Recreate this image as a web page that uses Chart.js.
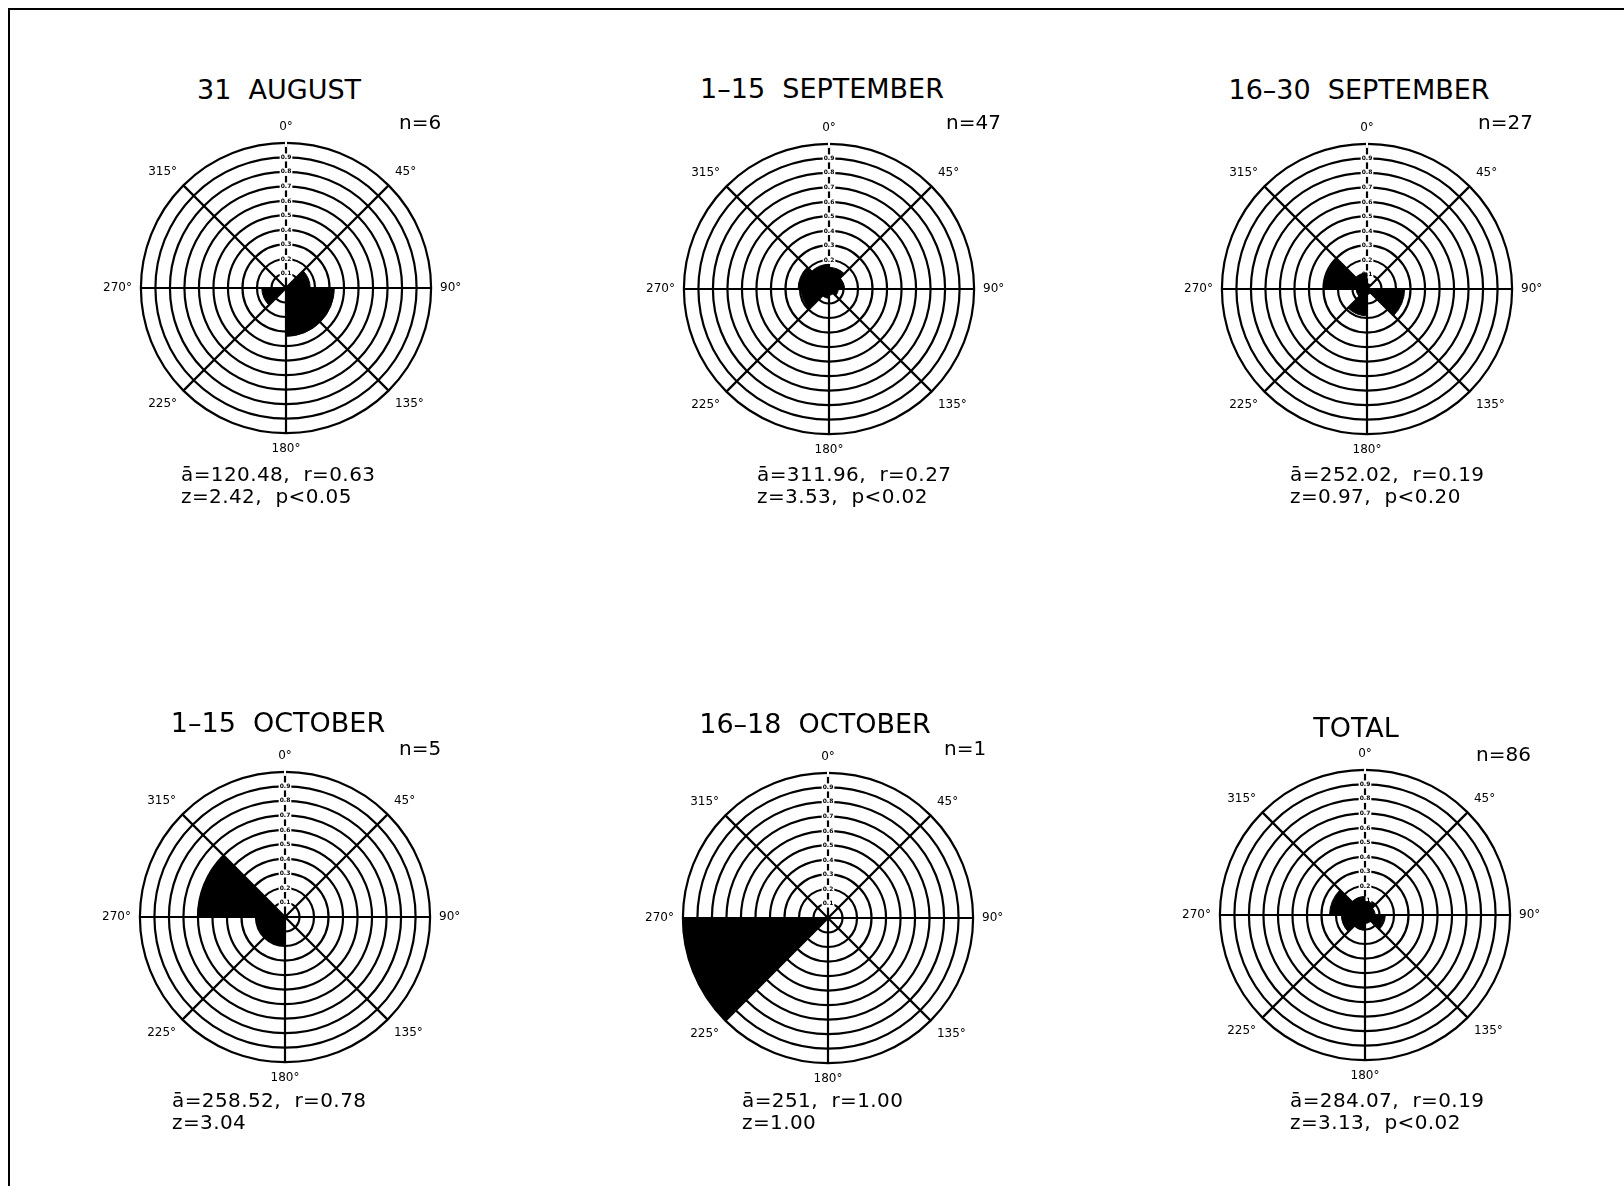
<!DOCTYPE html>
<html>
<head>
<meta charset="utf-8">
<script src="https://cdn.jsdelivr.net/npm/chart.js@4.4.1/dist/chart.umd.min.js"></script>
<style>
  html, body { margin: 0; padding: 0; background: #fff; }
  body { width: 1624px; height: 1186px; position: relative; overflow: hidden; font-family: "DejaVu Sans", sans-serif; color: #000; }
  #frame { position: absolute; left: 8px; top: 8px; width: 1700px; height: 1300px; border-top: 2px solid #000; border-left: 2px solid #000; }
  canvas { position: absolute; }
  .txt { position: absolute; white-space: pre; line-height: 1; }
  .title { font-size: 27px; transform: translate(-50%, -50%); }
  .n { font-size: 20px; transform: translateY(-50%); }
  .stat { font-size: 20px; letter-spacing: 0.4px; transform: translateY(-50%); }
</style>
</head>
<body>
<div id="frame"></div>
<script>
// 45 degree sectors, clockwise from north
const sectors = ['0°', '45°', '90°', '135°', '180°', '225°', '270°', '315°'];

// number of bearings in each sector, read from the roses
const aug31    = [0, 1, 2, 2, 0, 1, 0, 0];
const sep1_15  = [7, 5, 3, 2, 3, 9, 10, 8];
const sep16_30 = [1, 0, 7, 1, 5, 2, 8, 3];
const oct1_15  = [0, 0, 0, 0, 1, 1, 3, 0];
const oct16_18 = [0, 0, 0, 0, 0, 1, 0, 0];
const total    = [8, 6, 12, 5, 9, 14, 21, 11];

const titles = ['31  AUGUST', '1\u201315  SEPTEMBER', '16\u201330  SEPTEMBER', '1\u201315  OCTOBER', '16\u201318  OCTOBER', 'TOTAL'];
const sampleSizes = [6, 47, 27, 5, 1, 86];
const statLines = [
  ['ā=120.48,  r=0.63', 'z=2.42,  p<0.05'],
  ['ā=311.96,  r=0.27', 'z=3.53,  p<0.02'],
  ['ā=252.02,  r=0.19', 'z=0.97,  p<0.20'],
  ['ā=258.52,  r=0.78', 'z=3.04'],
  ['ā=251,  r=1.00', 'z=1.00'],
  ['ā=284.07,  r=0.19', 'z=3.13,  p<0.02']
];
const counts = [aug31, sep1_15, sep16_30, oct1_15, oct16_18, total];

// page layout of each rose: centre, title centre, n label, stats block
const layout = [
  {cx: 285.5, cy: 287.5, tx: 279, ty: 89,  nx: 399,  ny: 122, sx: 181,  sy: 474},
  {cx: 829,   cy: 288.5, tx: 822, ty: 88,  nx: 946,  ny: 122, sx: 757,  sy: 474},
  {cx: 1367,  cy: 288.5, tx: 1359, ty: 89, nx: 1478, ny: 122, sx: 1290, sy: 474},
  {cx: 284.5, cy: 916.5, tx: 278, ty: 722, nx: 399,  ny: 748, sx: 172,  sy: 1100},
  {cx: 828,   cy: 918,   tx: 815, ty: 723, nx: 944,  ny: 748, sx: 742,  sy: 1100},
  {cx: 1365,  cy: 915,   tx: 1356, ty: 727, nx: 1476, ny: 754, sx: 1290, sy: 1100}
];
const RADIUS = 145;

function addText(cls, text, x, y) {
  const d = document.createElement('div');
  d.className = 'txt ' + cls;
  d.textContent = text;
  d.style.left = x + 'px';
  d.style.top = y + 'px';
  document.body.appendChild(d);
}

function roseConfig(values) {
  return {
    type: 'polarArea',
    data: {
      labels: sectors,
      datasets: [{
        data: values,
        backgroundColor: '#000',
        borderColor: '#000',
        borderWidth: 1
      }]
    },
    options: {
      responsive: false,
      animation: false,
      layout: { padding: 0 },
      plugins: { legend: { display: false }, tooltip: { enabled: false } },
      scales: {
        r: {
          min: 0,
          max: 1,
          startAngle: 0,
          ticks: {
            stepSize: 0.1,
            color: '#000',
            font: { size: 6, family: 'DejaVu Sans', weight: 'bold' },
            backdropColor: '#fff',
            backdropPadding: 1,
            callback: v => (v > 0 && v < 1) ? v.toFixed(1) : ''
          },
          grid: { circular: true, color: '#000', lineWidth: 2.2 },
          angleLines: { display: true, color: '#000', lineWidth: 2.2 },
          pointLabels: {
            display: true,
            color: '#000',
            padding: 5,
            font: { size: 12, family: 'DejaVu Sans' }
          }
        }
      }
    }
  };
}

function drawRose(i) {
  const p = layout[i];
  const n = sampleSizes[i];
  const values = counts[i].map(c => c / n);

  let size = 400;
  let canvas = document.createElement('canvas');
  canvas.width = size; canvas.height = size;
  document.body.appendChild(canvas);
  let chart = new Chart(canvas, roseConfig(values));
  const got = chart.scales.r.drawingArea;
  chart.destroy();
  canvas.remove();

  size = Math.round(size + 2 * (RADIUS - got));
  canvas = document.createElement('canvas');
  canvas.width = size; canvas.height = size;
  document.body.appendChild(canvas);
  chart = new Chart(canvas, roseConfig(values));
  const r = chart.scales.r;
  canvas.style.left = (p.cx - r.xCenter) + 'px';
  canvas.style.top = (p.cy - r.yCenter) + 'px';

  addText('title', titles[i], p.tx, p.ty);
  addText('n', 'n=' + n, p.nx, p.ny);
  addText('stat', statLines[i][0], p.sx, p.sy);
  addText('stat', statLines[i][1], p.sx, p.sy + 22);
}

for (let i = 0; i < 6; i++) drawRose(i);
</script>
</body>
</html>
